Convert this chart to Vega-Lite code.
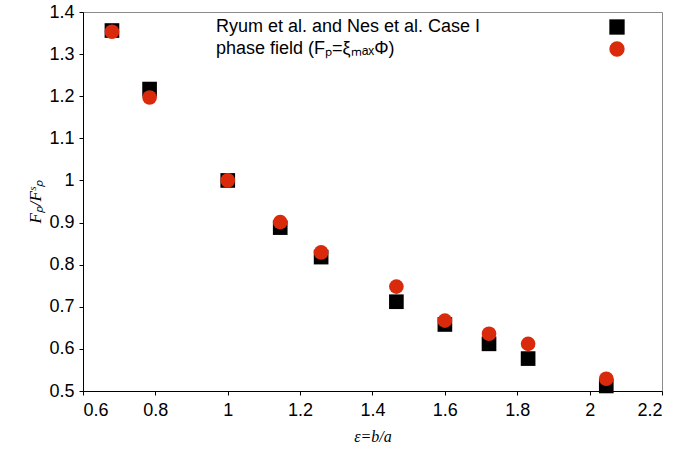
{
  "$schema": "https://vega.github.io/schema/vega-lite/v6.json",
  "autosize": {"type": "none"},
  "padding": {"left": 83, "top": 12, "right": 17, "bottom": 61},
  "width": 579,
  "height": 379,
  "background": "white",
  "config": {
    "view": {"stroke": "#8c8c8c", "strokeWidth": 1},
    "font": "Liberation Sans"
  },
  "data": {
    "values": [
      {"eps": 0.68, "fp": 1.356, "series": "Ryum et al. and Nes et al. Case I"},
      {"eps": 0.784, "fp": 1.217, "series": "Ryum et al. and Nes et al. Case I"},
      {"eps": 1.0, "fp": 1.0, "series": "Ryum et al. and Nes et al. Case I"},
      {"eps": 1.145, "fp": 0.888, "series": "Ryum et al. and Nes et al. Case I"},
      {"eps": 1.258, "fp": 0.818, "series": "Ryum et al. and Nes et al. Case I"},
      {"eps": 1.466, "fp": 0.712, "series": "Ryum et al. and Nes et al. Case I"},
      {"eps": 1.6, "fp": 0.658, "series": "Ryum et al. and Nes et al. Case I"},
      {"eps": 1.722, "fp": 0.612, "series": "Ryum et al. and Nes et al. Case I"},
      {"eps": 1.83, "fp": 0.577, "series": "Ryum et al. and Nes et al. Case I"},
      {"eps": 2.046, "fp": 0.512, "series": "Ryum et al. and Nes et al. Case I"},
      {"eps": 0.68, "fp": 1.353, "series": "phase field (Fₚ=ξₘₐₓΦ)"},
      {"eps": 0.784, "fp": 1.197, "series": "phase field (Fₚ=ξₘₐₓΦ)"},
      {"eps": 1.0, "fp": 1.0, "series": "phase field (Fₚ=ξₘₐₓΦ)"},
      {"eps": 1.145, "fp": 0.901, "series": "phase field (Fₚ=ξₘₐₓΦ)"},
      {"eps": 1.258, "fp": 0.829, "series": "phase field (Fₚ=ξₘₐₓΦ)"},
      {"eps": 1.466, "fp": 0.748, "series": "phase field (Fₚ=ξₘₐₓΦ)"},
      {"eps": 1.6, "fp": 0.667, "series": "phase field (Fₚ=ξₘₐₓΦ)"},
      {"eps": 1.722, "fp": 0.636, "series": "phase field (Fₚ=ξₘₐₓΦ)"},
      {"eps": 1.83, "fp": 0.612, "series": "phase field (Fₚ=ξₘₐₓΦ)"},
      {"eps": 2.046, "fp": 0.529, "series": "phase field (Fₚ=ξₘₐₓΦ)"}
    ]
  },
  "mark": {"type": "point", "filled": true, "opacity": 1, "strokeWidth": 0},
  "encoding": {
    "x": {
      "field": "eps", "type": "quantitative",
      "scale": {"domain": [0.6, 2.2], "nice": false, "zero": false},
      "axis": {
        "values": [0.6, 0.8, 1, 1.2, 1.4, 1.6, 1.8, 2, 2.2],
        "format": "~g", "grid": false,
        "domainColor": "#000", "tickColor": "#000", "tickSize": 4,
        "labelFontSize": 18, "labelColor": "#000", "labelPadding": 6,
        "title": "ε=b/a", "titleFont": "Liberation Serif", "titleFontStyle": "italic",
        "titleFontWeight": "normal", "titleFontSize": 16, "titleColor": "#000", "titlePadding": 9
      }
    },
    "y": {
      "field": "fp", "type": "quantitative",
      "scale": {"domain": [0.5, 1.4], "nice": false, "zero": false},
      "axis": {
        "values": [0.5, 0.6, 0.7, 0.8, 0.9, 1, 1.1, 1.2, 1.3, 1.4],
        "format": "~g", "grid": false,
        "domainColor": "#000", "tickColor": "#000", "tickSize": 4,
        "labelFontSize": 18, "labelColor": "#000", "labelPadding": 5,
        "title": "Fₚ/Fˢₚ", "titleFont": "Liberation Serif", "titleFontStyle": "italic",
        "titleFontWeight": "normal", "titleFontSize": 17, "titleColor": "#000", "titlePadding": 4
      }
    },
    "shape": {
      "field": "series", "type": "nominal",
      "scale": {"domain": ["Ryum et al. and Nes et al. Case I", "phase field (Fₚ=ξₘₐₓΦ)"], "range": ["square", "circle"]},
      "legend": {
        "orient": "none", "legendX": 100, "legendY": 6, "title": null,
        "symbolOffset": 425, "labelOffset": -410, "labelFontSize": 18, "labelColor": "#000",
        "symbolSize": 235, "rowPadding": 4, "labelLimit": 450
      }
    },
    "color": {
      "field": "series", "type": "nominal",
      "scale": {"domain": ["Ryum et al. and Nes et al. Case I", "phase field (Fₚ=ξₘₐₓΦ)"], "range": ["#000000", "#d92a0c"]}
    },
    "size": {"value": 215}
  }
}
